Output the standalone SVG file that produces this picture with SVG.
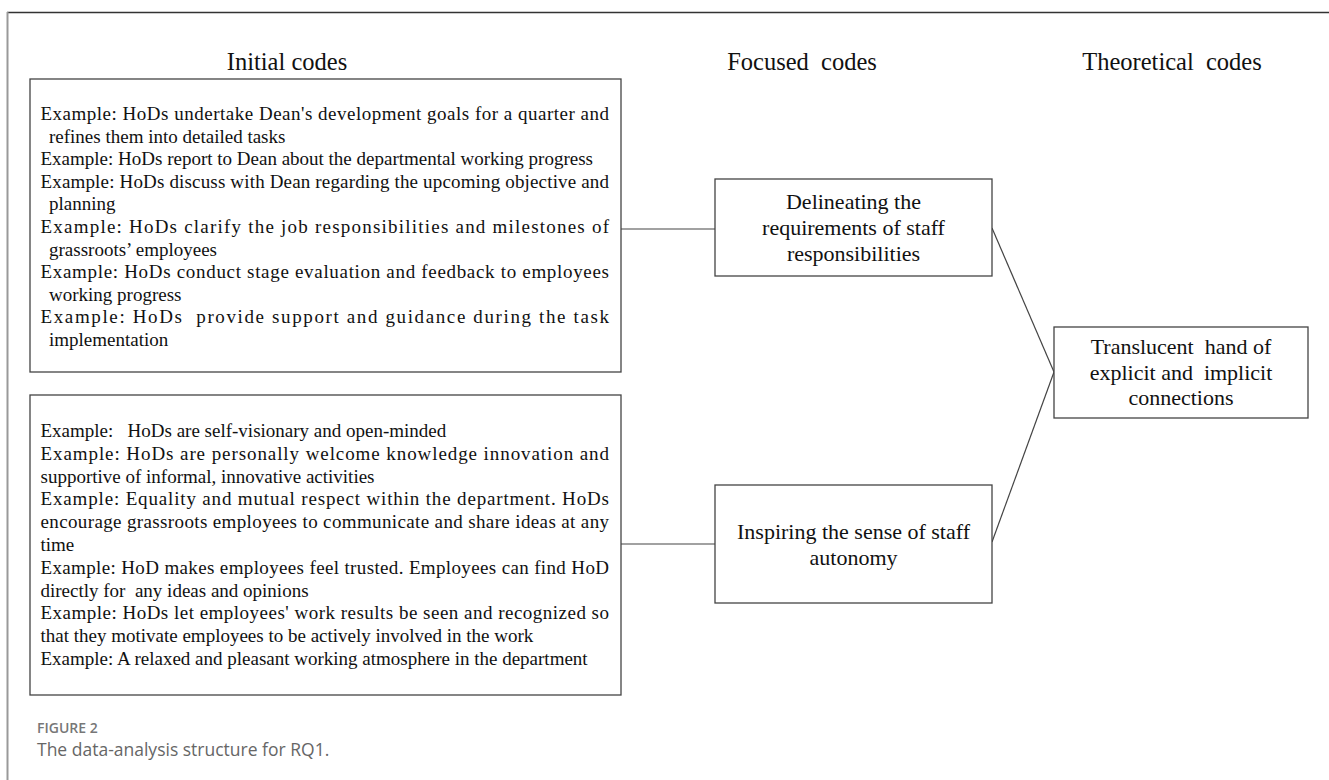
<svg xmlns="http://www.w3.org/2000/svg" width="1329" height="780" viewBox="0 0 1329 780">
<style>
.box{fill:#fff;stroke:#444;stroke-width:1.3}
.t{font-family:"Liberation Serif","Times New Roman",serif;font-size:19px;fill:#111;white-space:pre}
.h{font-family:"Liberation Serif","Times New Roman",serif;font-size:24.5px;fill:#111;text-anchor:middle;white-space:pre}
.n{font-family:"Liberation Serif","Times New Roman",serif;font-size:22px;fill:#111;text-anchor:middle;white-space:pre}
.c{stroke:#444;stroke-width:1.2;fill:none}
</style>
<rect width="1329" height="780" fill="#fff"/>
<g id="frame">
<line x1="7" y1="12.5" x2="1329" y2="12.5" stroke="#333" stroke-width="1.5"/>
<line x1="7.5" y1="12" x2="7.5" y2="780" stroke="#999" stroke-width="2"/>
</g>
<g id="headers">
<text class="h" x="287" y="70">Initial codes</text>
<text class="h" x="802" y="70">Focused  codes</text>
<text class="h" x="1172" y="70">Theoretical  codes</text>
</g>
<g id="connectors">
<line class="c" x1="621" y1="229" x2="715" y2="229"/>
<line class="c" x1="621" y1="544" x2="715" y2="544"/>
<line class="c" x1="992" y1="228" x2="1054" y2="372"/>
<line class="c" x1="992" y1="542" x2="1054" y2="372"/>
</g>
<g id="initial1">
<rect class="box" x="30" y="79" width="591" height="293"/>
<text class="t" x="40.5" y="120" textLength="568.5" lengthAdjust="spacing">Example: HoDs undertake Dean's development goals for a quarter and</text>
<text class="t" x="49" y="142.6">refines them into detailed tasks</text>
<text class="t" x="40.5" y="165.2">Example: HoDs report to Dean about the departmental working progress</text>
<text class="t" x="40.5" y="187.8" textLength="568.5" lengthAdjust="spacing">Example: HoDs discuss with Dean regarding the upcoming objective and</text>
<text class="t" x="49" y="210.4">planning</text>
<text class="t" x="40.5" y="233" textLength="568.5" lengthAdjust="spacing">Example: HoDs clarify the job responsibilities and milestones of</text>
<text class="t" x="49" y="255.6">grassroots’ employees</text>
<text class="t" x="40.5" y="278.2" textLength="568.5" lengthAdjust="spacing">Example: HoDs conduct stage evaluation and feedback to employees</text>
<text class="t" x="49" y="300.8">working progress</text>
<text class="t" x="40.5" y="323.4" textLength="568.5" lengthAdjust="spacing">Example: HoDs  provide support and guidance during the task</text>
<text class="t" x="49" y="346">implementation</text>
</g>
<g id="initial2">
<rect class="box" x="30" y="395" width="591" height="300"/>
<text class="t" x="40.5" y="437">Example:   HoDs are self-visionary and open-minded</text>
<text class="t" x="40.5" y="459.8" textLength="568.5" lengthAdjust="spacing">Example: HoDs are personally welcome knowledge innovation and</text>
<text class="t" x="40.5" y="482.6">supportive of informal, innovative activities</text>
<text class="t" x="40.5" y="505.4" textLength="568.5" lengthAdjust="spacing">Example: Equality and mutual respect within the department. HoDs</text>
<text class="t" x="40.5" y="528.2" textLength="568.5" lengthAdjust="spacing">encourage grassroots employees to communicate and share ideas at any</text>
<text class="t" x="40.5" y="551">time</text>
<text class="t" x="40.5" y="573.8" textLength="568.5" lengthAdjust="spacing">Example: HoD makes employees feel trusted. Employees can find HoD</text>
<text class="t" x="40.5" y="596.6">directly for  any ideas and opinions</text>
<text class="t" x="40.5" y="619.4" textLength="568.5" lengthAdjust="spacing">Example: HoDs let employees' work results be seen and recognized so</text>
<text class="t" x="40.5" y="642.2">that they motivate employees to be actively involved in the work</text>
<text class="t" x="40.5" y="665">Example: A relaxed and pleasant working atmosphere in the department</text>
</g>
<g id="focused1">
<rect class="box" x="715" y="179" width="277" height="97"/>
<text class="n" x="853.5" y="209">Delineating the</text>
<text class="n" x="853.5" y="235">requirements of staff</text>
<text class="n" x="853.5" y="261">responsibilities</text>
</g>
<g id="focused2">
<rect class="box" x="715" y="485" width="277" height="118"/>
<text class="n" x="853.5" y="539">Inspiring the sense of staff</text>
<text class="n" x="853.5" y="565">autonomy</text>
</g>
<g id="theoretical">
<rect class="box" x="1054" y="327" width="254" height="91"/>
<text class="n" x="1181" y="354">Translucent  hand of</text>
<text class="n" x="1181" y="380">explicit and  implicit</text>
<text class="n" x="1181" y="405">connections</text>
</g>
<g id="caption">
<text x="37" y="733" font-family="'Open Sans','Noto Sans',sans-serif" font-size="14" font-weight="600" fill="#777">FIGURE 2</text>
<text x="37" y="756" font-family="'Open Sans','Noto Sans',sans-serif" font-size="17.5" fill="#666">The data-analysis structure for RQ1.</text>
</g>
</svg>
